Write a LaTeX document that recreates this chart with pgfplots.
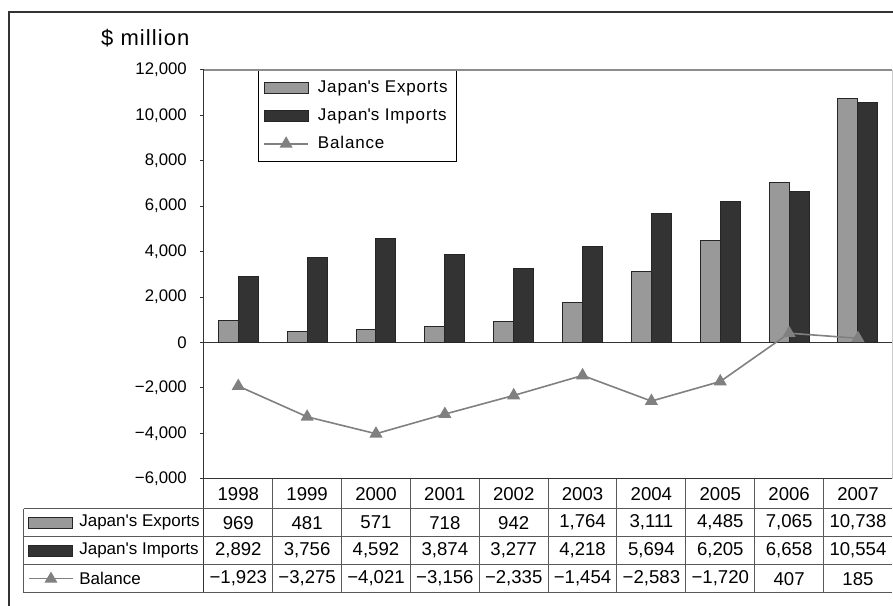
\documentclass[border=0pt]{standalone}
\usepackage{fontspec}
\setmainfont{Liberation Sans}
\newfontfamily\widef{Liberation Sans}[LetterSpace=5]
\usepackage{pgfplots}
\pgfplotsset{compat=1.18}

\definecolor{expc}{HTML}{999999}
\definecolor{impc}{HTML}{333333}
\definecolor{balc}{HTML}{808080}
\definecolor{framec}{HTML}{333333}

\tikzset{
  expbar/.style={fill=expc, draw=black!85, line width=0.5pt},
  impbar/.style={fill=impc, draw=black!85, line width=0.5pt},
  balline/.style={balc, line width=0.8pt, mark=triangle*, mark size=3pt, mark options={fill=balc, draw=balc, solid}},
}
\pgfplotsset{
  barleg/.style={legend image code/.code={\draw[##1] (0pt,-2.75pt) rectangle (22pt,2.75pt);}},
  lineleg/.style={legend image code/.code={\draw[mark repeat=2,mark phase=2,##1] plot coordinates {(0pt,0pt)(11pt,0pt)(22pt,0pt)};}},
}

\begin{document}
\begin{tikzpicture}
\begin{axis}[
  at={(0,0)}, anchor=south west,
  scale only axis, width=344.5pt, height=204.5pt,
  xmin=-0.5, xmax=9.5, ymin=-6000, ymax=12000,
  xtick=\empty,
  ytick={-6000,-4000,...,12000},
  scaled y ticks=false,
  yticklabels={{−6,000},{−4,000},{−2,000},{0},{2,000},{4,000},{6,000},{8,000},{10,000},{12,000}},
  yticklabel style={font=\fontsize{8.4}{10}\selectfont, xshift=-3pt},
  ytick pos=left, tick align=outside, major tick length=2pt,
  tick style={framec, line width=0.5pt},
  axis line style={draw=none},
  clip=false,
  legend cell align=left,
  legend style={at={(0.0784,1)}, anchor=north west, draw=black, line width=0.5pt,
    font=\widef\fontsize{8.5}{10}\selectfont, row sep=2.6pt,
    inner xsep=2.5pt, inner ysep=3pt,
    /tikz/every odd column/.append style={column sep=2.5pt}},
]
% zero line
\draw[framec, line width=0.6pt] (axis cs:-0.5,0) -- (axis cs:9.5,0);

\addplot[ybar, bar width=10pt, bar shift=-5pt, expbar, barleg]
  coordinates {(0,969)(1,481)(2,571)(3,718)(4,942)(5,1764)(6,3111)(7,4485)(8,7065)(9,10738)};
\addlegendentry{Japan\textquotesingle s Exports}

\addplot[ybar, bar width=10pt, bar shift=5pt, impbar, barleg]
  coordinates {(0,2892)(1,3756)(2,4592)(3,3874)(4,3277)(5,4218)(6,5694)(7,6205)(8,6658)(9,10554)};
\addlegendentry{Japan\textquotesingle s Imports}

\addplot[balline, lineleg]
  coordinates {(0,-1923)(1,-3275)(2,-4021)(3,-3156)(4,-2335)(5,-1454)(6,-2583)(7,-1720)(8,407)(9,185)};
\addlegendentry{Balance}
\end{axis}

% frame, axis lines and data table, in pixel units (origin = lower left of plot box)
\begin{scope}[x=0.5pt, y=0.5pt]
  \useasboundingbox (-204,-127) rectangle (689,479);
  % outer frame
  \draw[framec, line width=0.6pt] (-195,-140) -- (-195,467) -- (700,467);
  % plot box
  \draw[black!45, line width=0.6pt] (0,409) -- (689,409);
  \draw[black!20, line width=0.6pt] (689,409) -- (689,0);
  \draw[framec, line width=0.6pt] (0,409) -- (0,-114);
  \draw[framec, line width=0.6pt] (0,0) -- (689,0);
  % table lines
  \foreach \yy in {-30,-58,-86,-114}
    \draw[black!65, line width=0.5pt] (-180,\yy) -- (689,\yy);
  \draw[black!65, line width=0.5pt] (-180,-30) -- (-180,-114);
  \foreach \i in {1,...,9}
    \draw[black!65, line width=0.5pt] (\i*68.9,0) -- (\i*68.9,-114);
  % unit label
  \node[anchor=east, font=\widef\fontsize{11}{13}\selectfont, inner sep=0pt] at (-14,441) {\$ million};
  % header
  \foreach \yr [count=\i from 0] in {1998,1999,2000,2001,2002,2003,2004,2005,2006,2007}
    \node[font=\fontsize{9.3}{11}\selectfont] at ({(\i+0.5)*68.9},-15) {\yr};
  \foreach \v [count=\i from 0] in {969,481,571,718,942,{1,764},{3,111},{4,485},{7,065},{10,738}}
    \node[font=\fontsize{9.3}{11}\selectfont] at ({(\i+0.5)*68.9},-44) {\v};
  \foreach \v [count=\i from 0] in {{2,892},{3,756},{4,592},{3,874},{3,277},{4,218},{5,694},{6,205},{6,658},{10,554}}
    \node[font=\fontsize{9.3}{11}\selectfont] at ({(\i+0.5)*68.9},-72) {\v};
  \foreach \v [count=\i from 0] in {{−1,923},{−3,275},{−4,021},{−3,156},{−2,335},{−1,454},{−2,583},{−1,720},407,185}
    \node[font=\fontsize{9.3}{11}\selectfont] at ({(\i+0.5)*68.9},-100) {\v};
  % row labels with legend keys
  \draw[expbar] (-175,-49.5) rectangle (-131,-38.5);
  \draw[impbar] (-175,-77.5) rectangle (-131,-66.5);
  \draw[balc, line width=0.8pt] (-175,-100) -- (-131,-100);
  \fill[balc] (-153,-93) -- (-146.5,-104) -- (-159.5,-104) -- cycle;
  \node[anchor=west, inner sep=0pt, font=\fontsize{8.5}{10}\selectfont] at (-125,-44) {Japan\textquotesingle s Exports};
  \node[anchor=west, inner sep=0pt, font=\fontsize{8.5}{10}\selectfont] at (-125,-72) {Japan\textquotesingle s Imports};
  \node[anchor=west, inner sep=0pt, font=\fontsize{8.5}{10}\selectfont] at (-125,-100) {Balance};
\end{scope}
\end{tikzpicture}
\end{document}
